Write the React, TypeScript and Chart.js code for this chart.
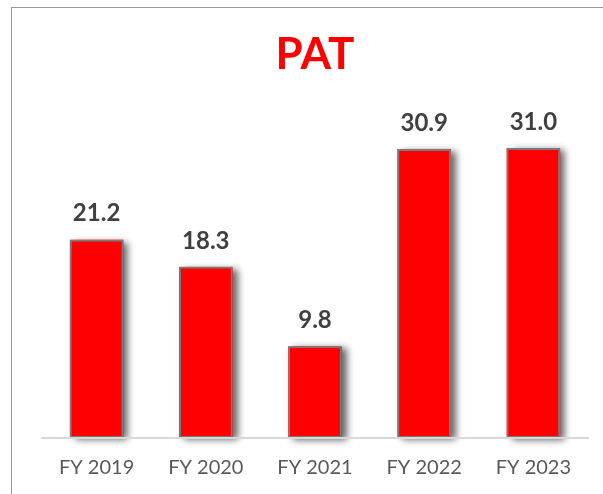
import React, { useEffect, useRef } from "react";
import { Chart, registerables } from "chart.js";

Chart.register(...registerables);

const categories = ["FY 2019", "FY 2020", "FY 2021", "FY 2022", "FY 2023"];
const patValues = [21.2, 18.3, 9.8, 30.9, 31.0];

const FONT = "Lato, 'Open Sans', 'Liberation Sans', sans-serif";

const valueLabels = {
  id: "valueLabels",
  afterDatasetsDraw(chart: any) {
    const ctx = chart.ctx;
    const meta = chart.getDatasetMeta(0);
    ctx.save();
    ctx.font = `bold 24px ${FONT}`;
    ctx.fillStyle = "#404040";
    ctx.textAlign = "center";
    ctx.textBaseline = "middle";
    meta.data.forEach((el: any, i: number) => {
      ctx.fillText(patValues[i].toFixed(1), el.x, el.y - 26);
    });
    ctx.restore();
  },
};

const barShadow = {
  id: "barShadow",
  beforeDatasetsDraw(chart: any) {
    const ctx = chart.ctx;
    const meta = chart.getDatasetMeta(0);
    ctx.save();
    ctx.shadowColor = "rgba(0,0,0,0.6)";
    ctx.shadowBlur = 7;
    ctx.shadowOffsetX = 5;
    ctx.shadowOffsetY = 2;
    ctx.fillStyle = "#ff0000";
    meta.data.forEach((el: any) => {
      const { x, y, base, width } = el.getProps(["x", "y", "base", "width"], true);
      ctx.fillRect(x - width / 2, y, width, base - y);
    });
    ctx.restore();
  },
};

export default function App() {
  const ref = useRef<HTMLCanvasElement>(null);
  useEffect(() => {
    if (!ref.current) return;
    const chart = new Chart(ref.current, {
      type: "bar",
      data: {
        labels: categories,
        datasets: [
          {
            data: patValues,
            backgroundColor: "#ff0000",
            borderColor: "#7a7a7a",
            borderWidth: 2,
            borderSkipped: false,
            categoryPercentage: 1,
            barPercentage: 0.49,
          },
        ],
      },
      options: {
        animation: false,
        responsive: false,
        layout: { padding: { left: 42, right: 15, top: 0, bottom: -4 } },
        plugins: {
          legend: { display: false },
          tooltip: { enabled: false },
          title: {
            display: true,
            text: "PAT",
            color: "#ff0000",
            font: { family: FONT, size: 44, weight: "bold", lineHeight: 1.2 },
            padding: { top: 28, bottom: 27 },
          },
        },
        scales: {
          x: {
            grid: { display: false, drawTicks: false },
            border: { display: true, color: "#d9d9d9", width: 2, z: 1 },
            ticks: {
              color: "#595959",
              font: { family: FONT, size: 20, lineHeight: 1.2 },
              padding: 18,
            },
          },
          y: {
            display: false,
            min: 0,
            max: 35.3,
          },
        },
      },
      plugins: [barShadow, valueLabels],
    });
    return () => chart.destroy();
  }, []);
  return (
    <div
      style={{
        position: "fixed",
        left: 0,
        top: 0,
        width: 603,
        height: 494,
        overflow: "hidden",
        background: "#fff",
      }}
    >
      <div
        style={{
          position: "absolute",
          left: 11,
          top: 7,
          width: 700,
          height: 700,
          border: "1px solid #9a9a9a",
        }}
      />
      <canvas
        ref={ref}
        width={603}
        height={494}
        style={{ position: "absolute", left: 0, top: 0, width: 603, height: 494 }}
      />
    </div>
  );
}
